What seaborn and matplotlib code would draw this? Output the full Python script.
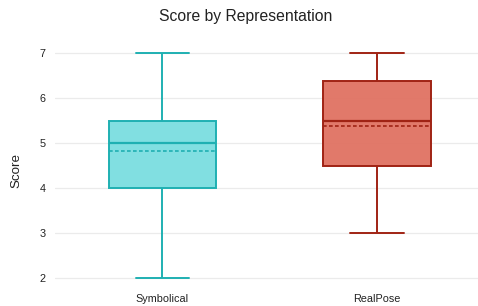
import numpy as np
import pandas as pd
import matplotlib
matplotlib.use("Agg")
import matplotlib.pyplot as plt
import seaborn as sns

# ------------------------------------------------------------
# data: scores per representation
# ------------------------------------------------------------
representations = ["Symbolical", "RealPose"]
symbolical_scores = [2, 3, 4, 4, 4, 5, 5, 5, 5, 7, 7, 7]
realpose_scores = [3, 4.5, 4.5, 4.5, 5, 6, 6, 6.5, 6.8, 7]
y_ticks = [2, 3, 4, 5, 6, 7]

fill_colors = {"Symbolical": "#7adee0", "RealPose": "#e07262"}
edge_colors = {"Symbolical": "#1fb0b2", "RealPose": "#a02314"}

df = pd.DataFrame({
    "Representation": ["Symbolical"] * len(symbolical_scores) + ["RealPose"] * len(realpose_scores),
    "Score": symbolical_scores + realpose_scores,
})

sns.set_style("white")
plt.rcParams["font.family"] = ["Liberation Sans", "DejaVu Sans"]

fig = plt.figure(figsize=(4.78, 3.06), dpi=100)
ax = fig.add_axes([55 / 478, 1 - 285 / 306, 1 - 55 / 478, 240 / 306])

sns.boxplot(data=df, x="Representation", y="Score", hue="Representation",
            order=representations, hue_order=representations,
            palette=fill_colors, width=0.5, legend=False, ax=ax,
            showmeans=True, meanline=True, whis=1.5,
            meanprops=dict(linestyle=(0, (2.2, 1.4)), linewidth=1.2),
            medianprops=dict(linewidth=1.6),
            linewidth=1.4, capwidths=0.25)

# colour lines and box edges per category (by x position)
for ln in ax.lines:
    xd = np.asarray(ln.get_xdata(), dtype=float)
    if xd.size == 0:
        continue
    name = representations[0] if xd.mean() < 0.5 else representations[1]
    ln.set_color(edge_colors[name])
for p in ax.patches:
    verts = p.get_path().vertices
    name = representations[0] if verts[:, 0].mean() < 0.5 else representations[1]
    p.set_alpha(None)
    p.set_facecolor(matplotlib.colors.to_rgba(fill_colors[name], 0.95))
    p.set_edgecolor(edge_colors[name])
    p.set_linewidth(1.4)

ax.set_xlim(-0.5, 1.47)
ax.set_ylim(2 - 7 / 44.93, 7 + 8.3 / 44.93)
ax.set_yticks(y_ticks)
ax.set_yticklabels([str(t) for t in y_ticks])
ax.grid(axis="y", color="#ebebeb", linewidth=0.9)
ax.set_axisbelow(True)
for s in ax.spines.values():
    s.set_visible(False)
ax.tick_params(axis="both", length=0, labelsize=7.8, colors="#222222", pad=6.5)
ax.set_xlabel("")
ax.set_ylabel("")

fig.text(16 / 478, 1 - 170 / 306, "Score", rotation=90, ha="center", va="center",
         fontsize=9.6, color="#222222")
fig.text(246 / 478, 1 - 16 / 306, "Score by Representation", ha="center", va="center",
         fontsize=11.3, color="#222222")

fig.savefig("out.png", dpi=100)
